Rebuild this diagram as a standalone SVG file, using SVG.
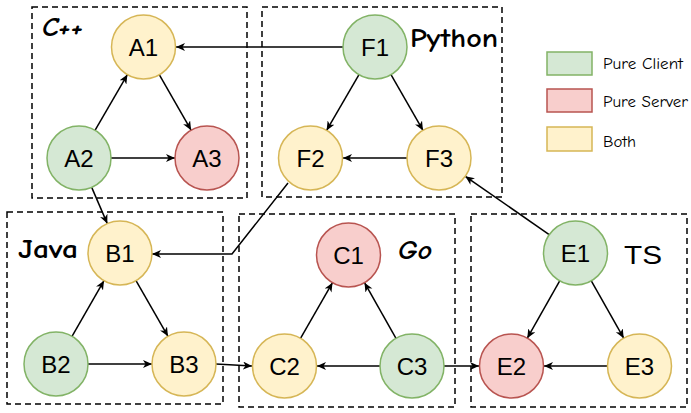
<svg xmlns="http://www.w3.org/2000/svg" width="691" height="413" viewBox="0 0 691 413">
<defs>
<marker id="arr" markerUnits="userSpaceOnUse" markerWidth="10" markerHeight="10" refX="9" refY="4" orient="auto">
<path d="M0,0 L9,4 L0,8 L2.5,4 z" fill="#000"/>
</marker>
<style>
.grp{fill:none;stroke:#000;stroke-width:1.5;stroke-dasharray:6 4}
.g{fill:#d5e8d4;stroke:#82b366;stroke-width:1.5}
.r{fill:#f8cecc;stroke:#b85450;stroke-width:1.5}
.y{fill:#fff2cc;stroke:#d6b656;stroke-width:1.5}
.nt{font-family:"Liberation Sans",Arial,sans-serif;font-size:24px;text-anchor:middle;fill:#000}
.lbl{font-family:"Comic Neue","Comic Sans MS","DejaVu Sans",sans-serif;font-size:26px;font-weight:bold;fill:#000}
.leg{font-family:"Comic Neue","Comic Sans MS","DejaVu Sans",sans-serif;font-size:16px;fill:#000}
.e{fill:none;stroke:#000;stroke-width:1.5;marker-end:url(#arr)}
</style>
</defs>
<rect width="691" height="413" fill="#fff"/>
<g id="groups">
<rect class="grp" x="32" y="7" width="215" height="191"/>
<rect class="grp" x="262" y="7" width="240" height="190"/>
<rect class="grp" x="7" y="212" width="216" height="192"/>
<rect class="grp" x="239" y="214" width="216" height="193"/>
<rect class="grp" x="471" y="214" width="216" height="193"/>
<text class="lbl" x="42" y="36" textLength="41" lengthAdjust="spacingAndGlyphs" font-style="italic">C++</text>
<text class="lbl" x="410" y="47" textLength="88" lengthAdjust="spacingAndGlyphs">Python</text>
<text class="lbl" x="18" y="258" textLength="60" lengthAdjust="spacingAndGlyphs">Java</text>
<text class="lbl" x="398" y="259" textLength="34" lengthAdjust="spacingAndGlyphs" font-style="italic">Go</text>
<text x="624" y="264" font-family="Liberation Sans,Arial,sans-serif" font-size="26" textLength="38" lengthAdjust="spacingAndGlyphs">TS</text>
</g>
<g id="legend">
<rect class="g" x="547" y="52" width="45" height="23"/>
<rect class="r" x="547" y="89" width="45" height="23"/>
<rect class="y" x="547" y="127" width="45" height="24"/>
<text class="leg" x="603" y="69" textLength="80" lengthAdjust="spacingAndGlyphs">Pure Client</text>
<text class="leg" x="603" y="107" textLength="85" lengthAdjust="spacingAndGlyphs">Pure Server</text>
<text class="leg" x="603" y="147" textLength="33" lengthAdjust="spacingAndGlyphs">Both</text>
</g>
<g id="connectors">
<line class="e" x1="95" y1="130.4" x2="127.4" y2="74.6"/>
<line class="e" x1="159.4" y1="74.8" x2="191.1" y2="130.2"/>
<line class="e" x1="111" y1="158" x2="175" y2="158"/>
<line class="e" x1="343" y1="47" x2="176" y2="47"/>
<line class="e" x1="359" y1="74.6" x2="326.6" y2="130.4"/>
<line class="e" x1="391" y1="74.6" x2="423" y2="130.4"/>
<line class="e" x1="407" y1="158" x2="343" y2="158"/>
<line class="e" x1="91.7" y1="187.4" x2="107.3" y2="223.6"/>
<polyline class="e" points="288,183 232,254 152,254"/>
<line class="e" x1="72" y1="336.3" x2="104" y2="280.7"/>
<line class="e" x1="136" y1="280.7" x2="168" y2="336.3"/>
<line class="e" x1="88" y1="364" x2="152" y2="364"/>
<line class="e" x1="216" y1="364" x2="252" y2="366"/>
<line class="e" x1="300.5" y1="338.3" x2="332.5" y2="282.7"/>
<line class="e" x1="396" y1="338.3" x2="364.5" y2="282.7"/>
<line class="e" x1="380" y1="366" x2="317" y2="366"/>
<line class="e" x1="444" y1="366" x2="479" y2="366"/>
<line class="e" x1="559.7" y1="280.8" x2="527.3" y2="338.2"/>
<line class="e" x1="591.3" y1="280.8" x2="623.7" y2="338.2"/>
<line class="e" x1="607" y1="366" x2="544" y2="366"/>
<line class="e" x1="549.2" y1="234.7" x2="465.3" y2="176.3"/>
</g>
<g id="A1"><circle class="y" cx="143.5" cy="47" r="32"/><text class="nt" x="143.5" y="56">A1</text></g>
<g id="A2"><circle class="g" cx="79" cy="158" r="32"/><text class="nt" x="79" y="167">A2</text></g>
<g id="A3"><circle class="r" cx="207" cy="158" r="32"/><text class="nt" x="207" y="167">A3</text></g>
<g id="F1"><circle class="g" cx="375" cy="47" r="32"/><text class="nt" x="375" y="56">F1</text></g>
<g id="F2"><circle class="y" cx="310.5" cy="158" r="32"/><text class="nt" x="310.5" y="167">F2</text></g>
<g id="F3"><circle class="y" cx="439" cy="158" r="32"/><text class="nt" x="439" y="167">F3</text></g>
<g id="B1"><circle class="y" cx="120" cy="253" r="32"/><text class="nt" x="120" y="262">B1</text></g>
<g id="B2"><circle class="g" cx="56" cy="364" r="32"/><text class="nt" x="56" y="373">B2</text></g>
<g id="B3"><circle class="y" cx="184" cy="364" r="32"/><text class="nt" x="184" y="373">B3</text></g>
<g id="C1"><circle class="r" cx="348.5" cy="255" r="32"/><text class="nt" x="348.5" y="264">C1</text></g>
<g id="C2"><circle class="y" cx="284.5" cy="366" r="32"/><text class="nt" x="284.5" y="375">C2</text></g>
<g id="C3"><circle class="g" cx="412" cy="366" r="32"/><text class="nt" x="412" y="375">C3</text></g>
<g id="E1"><circle class="g" cx="575.5" cy="253" r="32"/><text class="nt" x="575.5" y="262">E1</text></g>
<g id="E2"><circle class="r" cx="511.5" cy="366" r="32"/><text class="nt" x="511.5" y="375">E2</text></g>
<g id="E3"><circle class="y" cx="639.5" cy="366" r="32"/><text class="nt" x="639.5" y="375">E3</text></g>
</svg>
